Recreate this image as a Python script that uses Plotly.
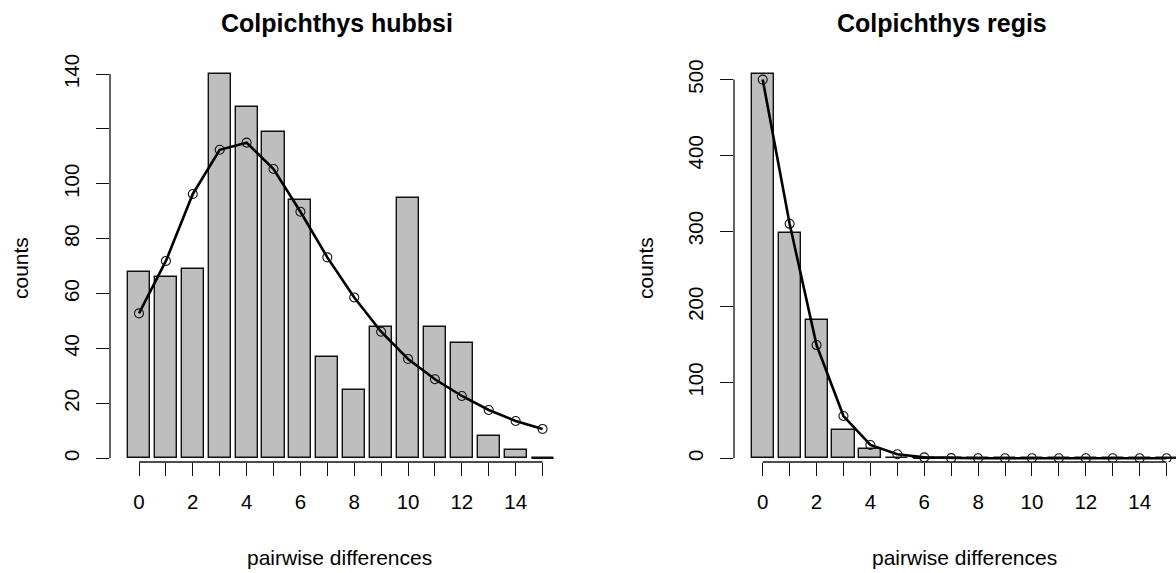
import plotly.graph_objects as go

# ---------------- data ----------------
diffs = list(range(16))
hubbsi_counts = [68, 66, 69, 140, 128, 119, 94, 37, 25, 48, 95, 48, 42, 8, 3, 0]
hubbsi_expected = [52.8, 71.9, 96.3, 112.4, 115.0, 105.4, 89.8, 73.2, 58.6, 46.1,
                   36.2, 28.8, 22.7, 17.6, 13.6, 10.7]
regis_counts = [507, 298, 182, 38, 12, 1, 0, 0, 0, 0, 0, 0, 0, 0, 0, 0]
regis_expected = [500, 309.6, 149.5, 55.8, 17.6, 5.3, 1.2, 0.2, 0, 0, 0, 0, 0, 0, 0, 0]

hubbsi_yticks = [0, 20, 40, 60, 80, 100, 120, 140]
hubbsi_ylabels = ["0", "20", "40", "60", "80", "100", "", "140"]
regis_yticks = [0, 100, 200, 300, 400, 500]
regis_ylabels = ["0", "100", "200", "300", "400", "500"]
x_labels = [str(d) if d % 2 == 0 else "" for d in diffs]

titles = ["Colpichthys hubbsi", "Colpichthys regis"]
xlab = "pairwise differences"
ylab = "counts"

# ---------------- layout constants ----------------
W, H = 1176, 573
FONT = "Liberation Sans, Arial, sans-serif"
BAR_W = 0.82
GREY = "#BEBEBE"
INK = "#111111"


def px(x):
    return x / W


def py(y):
    return 1 - y / H


YDOM = [py(462), py(55)]
panels = [
    dict(counts=hubbsi_counts, expected=hubbsi_expected, xa="x", ya="y",
         yticks=hubbsi_yticks, ylabels=hubbsi_ylabels,
         xdom=[px(110), px(570)], xrange=[-1.078, 16.02], yrange=[-1.348, 146.92]),
    dict(counts=regis_counts, expected=regis_expected, xa="x2", ya="y2",
         yticks=regis_yticks, ylabels=regis_ylabels,
         xdom=[px(734), 1.0], xrange=[-1.066, 15.35], yrange=[-4.885, 532.5]),
]


def to_paper(v, rng, dom):
    return dom[0] + (v - rng[0]) / (rng[1] - rng[0]) * (dom[1] - dom[0])


fig = go.Figure()

for p in panels:
    fig.add_trace(go.Bar(
        x=diffs, y=p["counts"], width=BAR_W, xaxis=p["xa"], yaxis=p["ya"],
        marker=dict(color=GREY, line=dict(color=INK, width=1.4)),
        showlegend=False, hoverinfo="x+y",
    ))
    # zero-height bars are drawn by R as flat outlines
    zx, zy = [], []
    for d, c in zip(diffs, p["counts"]):
        if c == 0:
            zx += [d - BAR_W / 2, d + BAR_W / 2, None]
            zy += [0, 0, None]
    if zx:
        fig.add_trace(go.Scatter(
            x=zx, y=zy, mode="lines", xaxis=p["xa"], yaxis=p["ya"],
            line=dict(color=INK, width=1.4), showlegend=False, hoverinfo="skip",
        ))
    fig.add_trace(go.Scatter(
        x=diffs, y=p["expected"], mode="lines+markers", xaxis=p["xa"], yaxis=p["ya"],
        line=dict(color="#000000", width=2.6),
        marker=dict(symbol="circle-open", size=9, color=INK, line=dict(width=1.1)),
        showlegend=False,
    ))
    # axis lines limited to the tick range (R style), in paper coords (never clipped)
    fig.add_shape(type="line", xref="paper", yref="paper",
                  x0=p["xdom"][0], x1=p["xdom"][0],
                  y0=to_paper(min(p["yticks"]), p["yrange"], YDOM),
                  y1=to_paper(max(p["yticks"]), p["yrange"], YDOM),
                  line=dict(color=INK, width=1.3))
    fig.add_shape(type="line", xref="paper", yref="paper",
                  x0=to_paper(min(diffs), p["xrange"], p["xdom"]),
                  x1=to_paper(max(diffs), p["xrange"], p["xdom"]),
                  y0=YDOM[0], y1=YDOM[0],
                  line=dict(color=INK, width=1.3))

common_x = dict(showgrid=False, zeroline=False, showline=False, ticks="outside",
                ticklen=13, tickwidth=1.3, tickcolor=INK,
                tickvals=diffs, ticktext=x_labels,
                tickfont=dict(family=FONT, size=20.5, color="#000000"),
                ticklabelstandoff=8)
common_y = dict(showgrid=False, zeroline=False, showline=False, ticks="outside",
                ticklen=13, tickwidth=1.3, tickcolor=INK, tickangle=-90,
                tickfont=dict(family=FONT, size=20.5, color="#000000"),
                ticklabelstandoff=9, domain=YDOM)

fig.update_layout(
    width=W, height=H,
    margin=dict(l=0, r=0, t=0, b=0),
    paper_bgcolor="white", plot_bgcolor="white",
    bargap=0,
    xaxis=dict(common_x, domain=panels[0]["xdom"], range=panels[0]["xrange"], anchor="y"),
    yaxis=dict(common_y, range=panels[0]["yrange"], anchor="x",
               tickvals=hubbsi_yticks, ticktext=hubbsi_ylabels),
    xaxis2=dict(common_x, domain=panels[1]["xdom"], range=panels[1]["xrange"], anchor="y2"),
    yaxis2=dict(common_y, range=panels[1]["yrange"], anchor="x2",
                tickvals=regis_yticks, ticktext=regis_ylabels),
)

annots = [
    dict(text=f"<b>{titles[0]}</b>", x=px(337), y=py(23), size=25),
    dict(text=f"<b>{titles[1]}</b>", x=px(942), y=py(23), size=25),
    dict(text=xlab, x=px(339.5), y=py(557), size=21),
    dict(text=xlab, x=px(964), y=py(557), size=21),
]
for a in annots:
    fig.add_annotation(text=a["text"], x=a["x"], y=a["y"], xref="paper", yref="paper",
                       xanchor="center", yanchor="middle", showarrow=False,
                       font=dict(family=FONT, size=a["size"], color="#000000"))
for xc in (20, 645):
    fig.add_annotation(text=ylab, x=px(xc), y=py(268), xref="paper", yref="paper",
                       xanchor="center", yanchor="middle", showarrow=False, textangle=-90,
                       font=dict(family=FONT, size=21, color="#000000"))

fig.write_html("out.html")
